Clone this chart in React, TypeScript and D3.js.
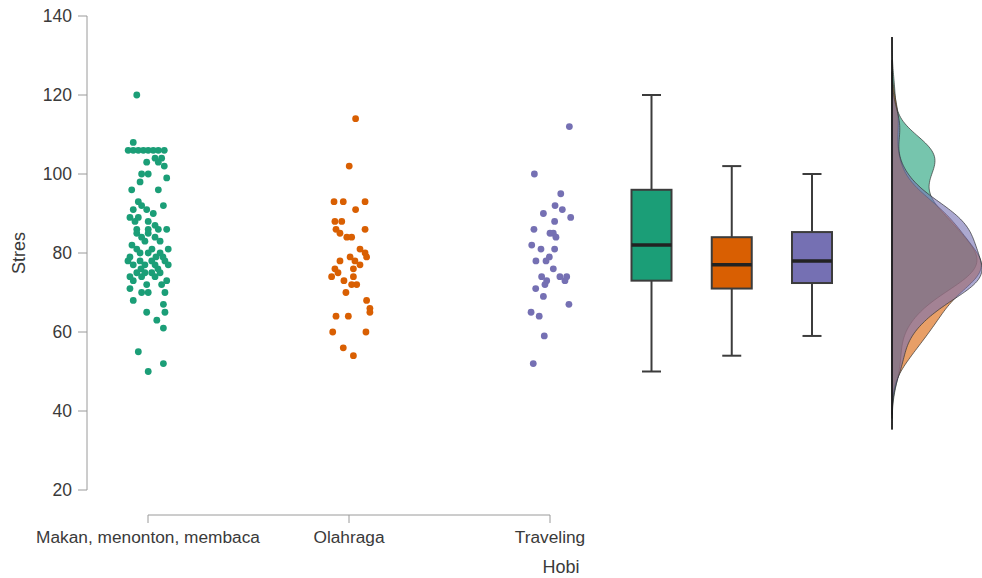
import React from "react";
import * as d3 from "d3";

const categories = ["Makan, menonton, membaca", "Olahraga", "Traveling"];
const colors = ["#1b9e77", "#d95f02", "#7570b3"];
const yTicks = [20, 40, 60, 80, 100, 120, 140];

// Stres values per group, with jitter (fraction of jitter half-width)
const greenValues = [120,108,106,106,106,106,106,106,106,106,104,104,103,103,102,100,100,99,98,96,96,93,92,92,91,91,90,89,89,88,88,87,86,86,86,86,85,85,84,84,83,83,81,81,79,80,78,78,78,77,77,77,75,75,75,74,74,73,73,72,72,71,70,70,70,68,67,65,65,63,61,55,52,50,80,79,76,76,81,82,79,77,74,80,75,78];
const greenJitter = [-0.51,-0.67,-0.9,-0.67,-0.44,-0.21,0.01,0.24,0.47,0.74,0.32,0.62,-0.06,0.47,0.74,-0.29,0.01,0.85,-0.36,-0.74,0.47,-0.44,-0.29,0.7,-0.67,-0.06,0.24,-0.82,-0.44,0.01,-0.59,0.32,-0.51,0.01,0.47,0.85,-0.51,0.01,-0.29,0.32,-0.14,0.55,-0.51,0.92,-0.82,0.01,-0.36,0.17,0.77,-0.67,-0.14,0.92,-0.51,0.17,0.55,-0.29,0.32,0.85,-0.67,-0.06,0.62,-0.82,-0.29,0.01,0.77,-0.67,0.7,-0.06,0.77,0.4,0.7,-0.44,0.7,0.01,-0.36,0.36,0.45,-0.32,0.18,-0.73,0.68,0.32,-0.82,0.55,-0.14,-0.91];
const orangeValues = [114,102,93,93,93,91,88,88,86,86,85,84,84,81,80,79,79,78,77,76,76,74,74,72,72,70,68,66,65,64,64,60,60,56,54,75,73,78];
const orangeJitter = [0.3,0.01,-0.68,-0.26,0.73,0.3,-0.64,-0.33,0.73,-0.59,-0.41,-0.1,0.12,0.5,0.73,0.05,0.8,-0.41,0.5,-0.64,0.2,-0.79,0.2,0.35,0.12,-0.14,0.8,0.95,0.95,-0.59,-0.03,-0.74,0.77,-0.26,0.2,-0.5,-0.23,0.27];
const purpleValues = [112,100,95,92,91,89,90,88,86,85,85,84,82,81,81,79,78,78,76,74,73,74,74,73,72,71,69,67,65,64,59,52];
const purpleJitter = [0.88,-0.71,0.49,0.23,0.56,0.94,-0.3,0.21,-0.73,0,0.15,0.27,-0.83,-0.41,0.21,-0.03,-0.64,-0.18,0.15,-0.38,-0.15,0.45,0.76,0.68,-0.23,-0.65,-0.3,0.86,-0.86,-0.49,-0.26,-0.76];

// Box-plot statistics per group
const boxLow = [50, 54, 59];
const boxQ1 = [73, 71, 72.4];
const boxMedian = [82, 77, 78];
const boxQ3 = [96, 84, 85.3];
const boxHigh = [120, 102, 100];

const groupValues = [greenValues, orangeValues, purpleValues];
const groupJitter = [greenJitter, orangeJitter, purpleJitter];

function kde(values: number[]) {
  const n = values.length;
  const sd = d3.deviation(values) as number;
  const sorted = values.slice().sort((a, b) => a - b);
  const iqr = (d3.quantileSorted(sorted, 0.75) as number) - (d3.quantileSorted(sorted, 0.25) as number);
  const bw = 0.9 * Math.min(sd, iqr / 1.34) * Math.pow(n, -0.2);
  const lo = sorted[0] - 3 * bw;
  const hi = sorted[n - 1] + 3 * bw;
  const pts: [number, number][] = [];
  const steps = 200;
  for (let i = 0; i <= steps; i++) {
    const x = lo + ((hi - lo) * i) / steps;
    let s = 0;
    for (const v of values) {
      const z = (x - v) / bw;
      s += Math.exp(-0.5 * z * z);
    }
    pts.push([x, s / (n * bw * Math.sqrt(2 * Math.PI))]);
  }
  return pts;
}

export default function App() {
  const W = 982;
  const H = 578;
  const y = d3.scaleLinear().domain([20, 140]).range([490, 16]);
  const xCat = d3.scalePoint<string>().domain(categories).range([148, 550]);
  const xBox = d3.scalePoint<string>().domain(categories).range([651.5, 812]);
  const jit = d3.scaleLinear().domain([-1, 1]).range([-22, 22]);
  const boxW = 40;
  const capW = 19;

  const densities = groupValues.map(kde);
  const maxD = d3.max(densities.flat(), (d) => d[1]) as number;
  const base = 892;
  const dw = d3.scaleLinear().domain([0, maxD]).range([0, 90]);
  const area = d3
    .area<[number, number]>()
    .y((d) => y(d[0]))
    .x0(base)
    .x1((d) => base + dw(d[1]))
    .curve(d3.curveBasis);
  const allX = densities.flat().map((d) => d[0]);
  const dMin = d3.min(allX) as number;
  const dMax = d3.max(allX) as number;

  const font = "Liberation Sans, Arial, sans-serif";
  const textCol = "#3a3a3a";
  const axisCol = "#9a9a9a";
  const boxStroke = "#3c3c3c";

  return (
    <div style={{ position: "absolute", left: 0, top: 0 }}>
      <svg width={W} height={H} style={{ display: "block", background: "#fff" }} fontFamily={font}>
        {/* y axis */}
        <line x1={87} x2={87} y1={y(140)} y2={y(20)} stroke={axisCol} strokeWidth={1} />
        {yTicks.map((t) => (
          <g key={t}>
            <line x1={78} x2={87} y1={y(t)} y2={y(t)} stroke={axisCol} strokeWidth={1} />
            <text x={72} y={y(t)} textAnchor="end" dominantBaseline="central" fontSize={17.5} fill={textCol}>
              {t}
            </text>
          </g>
        ))}
        <text transform={`translate(19,${y(80)}) rotate(-90)`} textAnchor="middle" dominantBaseline="central" fontSize={18} fill={textCol}>
          Stres
        </text>

        {/* x axis */}
        <line x1={xCat(categories[0])} x2={xCat(categories[2])} y1={515} y2={515} stroke={axisCol} strokeWidth={1} />
        {categories.map((c) => (
          <g key={c}>
            <line x1={xCat(c)} x2={xCat(c)} y1={515} y2={523} stroke={axisCol} strokeWidth={1} />
            <text x={xCat(c)} y={537} textAnchor="middle" dominantBaseline="central" fontSize={17.3} fill={textCol}>
              {c}
            </text>
          </g>
        ))}
        <text x={561} y={567} textAnchor="middle" dominantBaseline="central" fontSize={18} fill={textCol}>
          Hobi
        </text>

        {/* strip points */}
        {groupValues.map((vals, gi) =>
          vals.map((v, i) => (
            <circle
              key={`${gi}-${i}`}
              cx={(xCat(categories[gi]) as number) + jit(groupJitter[gi][i])}
              cy={y(v)}
              r={3.4}
              fill={colors[gi]}
            />
          ))
        )}

        {/* box plots */}
        {categories.map((c, i) => {
          const cx = xBox(c) as number;
          return (
            <g key={c}>
              <line x1={cx} x2={cx} y1={y(boxHigh[i])} y2={y(boxQ3[i])} stroke={boxStroke} strokeWidth={2} />
              <line x1={cx} x2={cx} y1={y(boxQ1[i])} y2={y(boxLow[i])} stroke={boxStroke} strokeWidth={2} />
              <line x1={cx - capW / 2} x2={cx + capW / 2} y1={y(boxHigh[i])} y2={y(boxHigh[i])} stroke={boxStroke} strokeWidth={2} />
              <line x1={cx - capW / 2} x2={cx + capW / 2} y1={y(boxLow[i])} y2={y(boxLow[i])} stroke={boxStroke} strokeWidth={2} />
              <rect
                x={cx - boxW / 2}
                y={y(boxQ3[i])}
                width={boxW}
                height={y(boxQ1[i]) - y(boxQ3[i])}
                fill={colors[i]}
                stroke={boxStroke}
                strokeWidth={2}
              />
              <line x1={cx - boxW / 2} x2={cx + boxW / 2} y1={y(boxMedian[i])} y2={y(boxMedian[i])} stroke="#222" strokeWidth={3.5} />
            </g>
          );
        })}

        {/* densities */}
        {densities.map((d, i) => (
          <path key={i} d={area(d) as string} fill={colors[i]} fillOpacity={0.6} stroke="#333" strokeWidth={0.7} />
        ))}
        <line x1={base} x2={base} y1={y(dMax)} y2={y(dMin)} stroke="#111" strokeWidth={1.5} />
      </svg>
    </div>
  );
}
